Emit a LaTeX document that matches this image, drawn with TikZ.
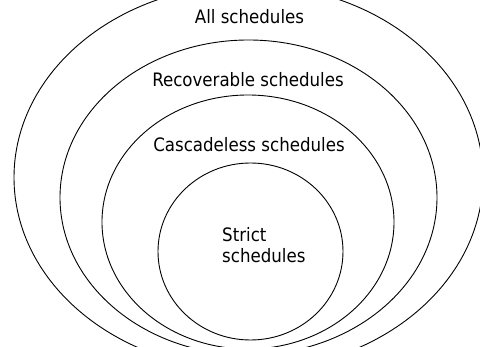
\documentclass[tikz,border=0pt]{standalone}
\usepackage{fontspec}
\setmainfont{DejaVu Sans Condensed}
\begin{document}
\begin{tikzpicture}[x=1pt,y=-1pt,
  setline/.style={draw=black,line width=0.9pt},
  setlabel/.style={inner sep=0pt,font=\fontsize{18.5}{22}\selectfont}]
  % page frame
  \useasboundingbox (0,0) rectangle (480,347);
  \clip (0,0) rectangle (480,347);
  % nested sets of schedules
  \draw[setline] (248.5,177.5) ellipse [x radius=234.5pt, y radius=192.8pt];
  \draw[setline] (248.5,197.5) ellipse [x radius=188.5pt, y radius=157.5pt];
  \draw[setline] (248,222) ellipse [x radius=146pt, y radius=127pt];
  \draw[setline] (250.5,251.5) ellipse [x radius=92.5pt, y radius=88.5pt];
  % labels
  \node[setlabel,anchor=base] (all) at (249.5,23.5) {All schedules};
  \node[setlabel,anchor=base] (rec) at (248,87) {Recoverable schedules};
  \node[setlabel,anchor=base] (cas) at (249,152) {Cascadeless schedules};
  \node[setlabel,anchor=base west] (strictA) at (222,242) {Strict};
  \node[setlabel,anchor=base west] (strictB) at (222,263) {schedules};
\end{tikzpicture}
\end{document}
